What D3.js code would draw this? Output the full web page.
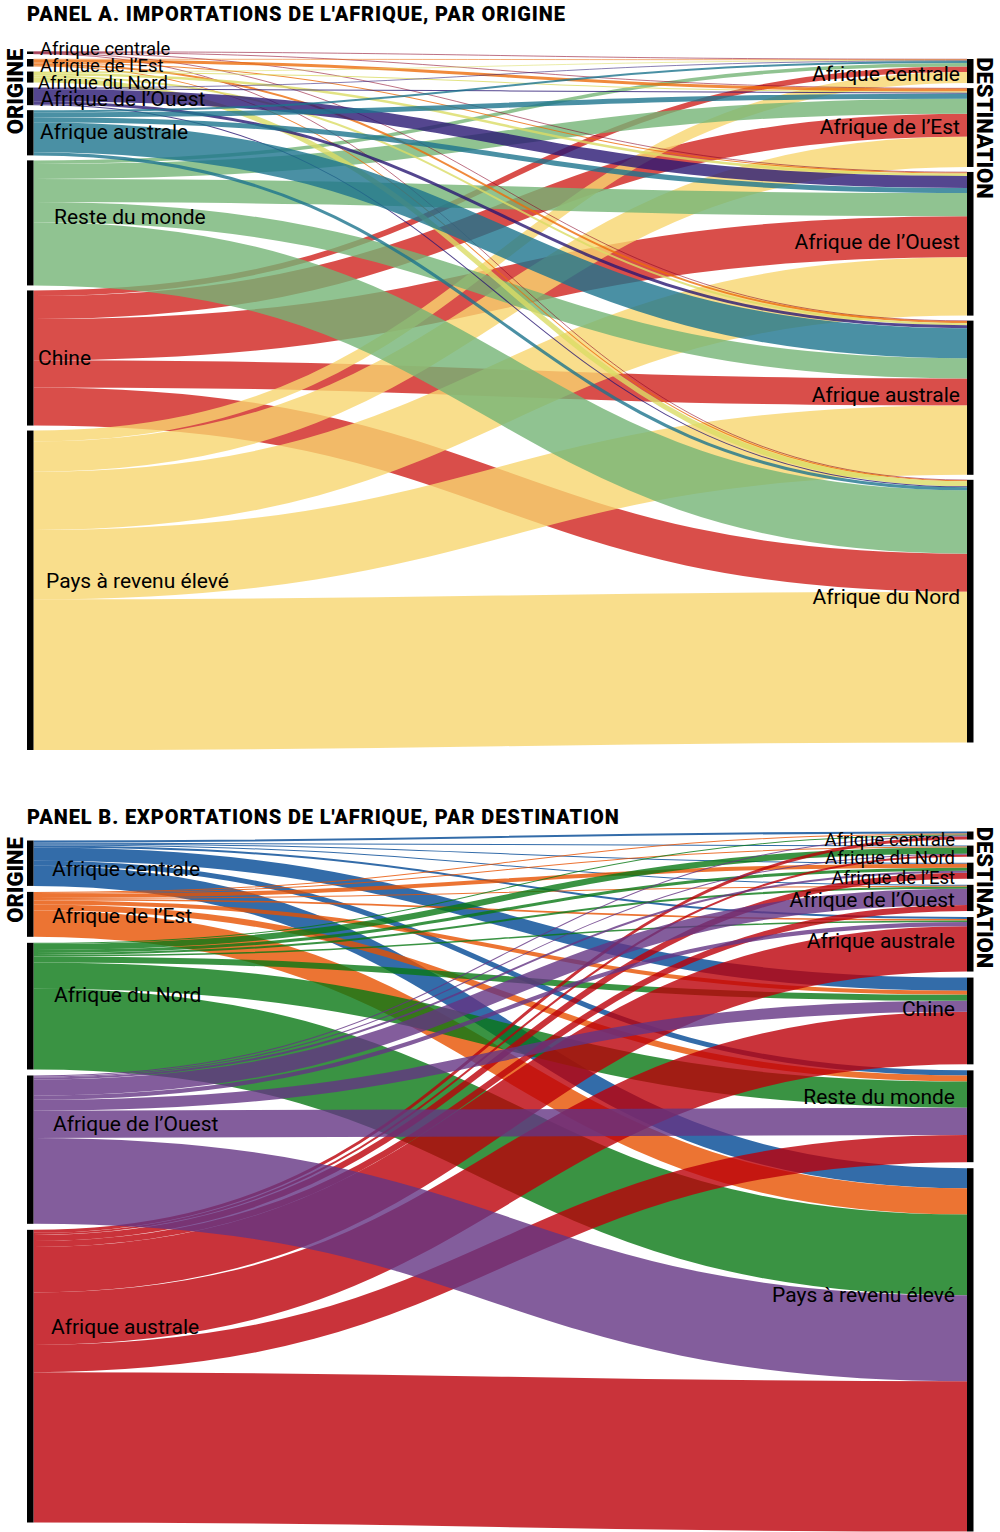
<!DOCTYPE html>
<html><head><meta charset="utf-8">
<script src="https://cdn.jsdelivr.net/npm/d3@7"></script>
<style>
body{margin:0;background:#fff}
svg{display:block}
text{font-family:Roboto,"Noto Sans","DejaVu Sans",sans-serif;fill:#000}
</style>
</head><body>
<svg id="chart" width="1000" height="1532"></svg>
<script>
// ---------------- DATA ----------------
// Panel A: imports of Africa, by origin (rows = origins, columns = destinations)
const originsA = ["Afrique centrale","Afrique de l’Est","Afrique du Nord","Afrique de l’Ouest","Afrique australe","Reste du monde","Chine","Pays à revenu élevé"];
const destinationsA = ["Afrique centrale","Afrique de l’Est","Afrique de l’Ouest","Afrique australe","Afrique du Nord"];
const fromCentraleA = [0.5, 0.5, 0.5, 0.5, 0.5];
const fromEstA      = [0.5, 3, 1, 2, 1];
const fromNordA     = [0.5, 1, 2.5, 2, 5];
const fromOuestA    = [0.5, 1, 12, 3, 1];
const fromAustraleA = [2, 5, 5, 30, 3];
const fromResteA    = [3.5, 15, 23, 20, 63];
const fromChineA    = [5.5, 23, 41, 27, 38];
const fromHicA      = [11, 30, 58, 69, 150];
const flowsA = [fromCentraleA, fromEstA, fromNordA, fromOuestA, fromAustraleA, fromResteA, fromChineA, fromHicA];

// Panel B: exports of Africa, by destination (rows = origins, columns = destinations)
const originsB = ["Afrique centrale","Afrique de l’Est","Afrique du Nord","Afrique de l’Ouest","Afrique australe"];
const destinationsB = ["Afrique centrale","Afrique du Nord","Afrique de l’Est","Afrique de l’Ouest","Afrique australe","Chine","Reste du monde","Pays à revenu élevé"];
const toWorldFromCentraleB = [2, 1, 1, 1, 2, 13, 5, 20];
const toWorldFromEstB      = [1, 1, 4, 1, 1.5, 4, 6, 26];
const toWorldFromNordB     = [1, 6, 3, 2, 1.5, 6, 26, 80];
const toWorldFromOuestB    = [1, 1, 2, 16, 4, 11, 27, 85];
const toWorldFromAustraleB = [3, 2, 6, 6, 45, 52, 27, 149];
const flowsB = [toWorldFromCentraleB, toWorldFromEstB, toWorldFromNordB, toWorldFromOuestB, toWorldFromAustraleB];

const titleA = "PANEL A. IMPORTATIONS DE L'AFRIQUE, PAR ORIGINE";
const titleB = "PANEL B. EXPORTATIONS DE L'AFRIQUE, PAR DESTINATION";
const sideLeft = "ORIGINE";
const sideRight = "DESTINATION";

// ---------------- STYLE / LAYOUT ----------------
const ALPHA = 0.8;
const colorsA = ["#a0224e","#f08a3c","#e2e384","#54468f","#4a90a4","#90c391","#d94e4a","#f9de8c"];
const colorsB = ["#2f6ca9","#ec7431","#3a9343","#835d9c","#c9323a"];

const panelA = {
  sources: originsA, targets: destinationsA, flows: flowsA, colors: colorsA,
  y0: 51.5, y1: 750, pad: 5, drawOrder: [6, 7, 5, 0, 1, 2, 3, 4],
  title: titleA, titleY: 21, sideLY: 91.5, sideRY: 128,
  srcLabel: { size:[18.5,18.5,18.5,21,21,21,21,21], x:[40,40,38,40,40,54,38,46], dy:[-4.8,3,5.2,1.8,-0.8,-6.8,-0.7,-9.5] },
  tgtLabel: { size:[21,21,21,21,21], x:960, dy:[2.5,-0.7,-2.7,-3.3,-14.2] }
};
const panelB = {
  sources: originsB, targets: destinationsB, flows: flowsB, colors: colorsB,
  y0: 831.5, y1: 1531.5, pad: 6, drawOrder: [0, 1, 2, 4, 3],
  title: titleB, titleY: 823.5, sideLY: 880, sideRY: 897.5,
  srcLabel: { size:[21,21,21,21,21], x:[52,52,54,53,51], dy:[5.5,0.8,-11.5,-26.3,-50] },
  tgtLabel: { size:[18.5,18.5,18.5,21,21,21,21,21], x:955, dy:[3.8,6.8,6.7,1.2,-3.5,-12.7,-19.8,-54.8] }
};
const barL = 27, barR = 967, barW = 6.5;

const svg = d3.select("#chart");

function baseColor(hex, a) {
  const c = d3.rgb(hex);
  const f = v => Math.max(0, Math.min(255, (v - (1 - a) * 255) / a));
  return d3.rgb(f(c.r), f(c.g), f(c.b)).formatHex();
}

function layoutSankey(p) {
  const total = d3.sum(p.flows.flat());
  const maxN = Math.max(p.sources.length, p.targets.length);
  const ky = (p.y1 - p.y0 - (maxN - 1) * p.pad) / total;
  const h = d3.scaleLinear().domain([0, total]).range([0, total * ky]);
  function column(names, sums) {
    const span = d3.sum(sums, s => h(s)) + (names.length - 1) * p.pad;
    let y = p.y0 + (p.y1 - p.y0 - span) / 2;
    return names.map((n, i) => {
      const node = { name: n, index: i, y0: y, y1: y + h(sums[i]) };
      y = node.y1 + p.pad;
      return node;
    });
  }
  const srcSums = p.flows.map(r => d3.sum(r));
  const tgtSums = p.targets.map((_, j) => d3.sum(p.flows, r => r[j]));
  const srcNodes = column(p.sources, srcSums);
  const tgtNodes = column(p.targets, tgtSums);
  const links = [];
  p.flows.forEach((row, i) => {
    let y = srcNodes[i].y0;
    row.forEach((v, j) => {
      const w = h(v);
      links.push({ i, j, v, w, sy: y + w / 2 });
      y += w;
    });
  });
  p.targets.forEach((_, j) => {
    let y = tgtNodes[j].y0;
    p.flows.forEach((row, i) => {
      const l = links.find(k => k.i === i && k.j === j);
      l.ty = y + l.w / 2;
      y += l.w;
    });
  });
  return { srcNodes, tgtNodes, links };
}

function drawPanel(p) {
  const g = svg.append("g");
  const L = layoutSankey(p);
  const x0 = barL + barW, x1 = barR;
  const linkGen = d3.linkHorizontal().source(d => [x0, d.sy]).target(d => [x1, d.ty]);
  const ordered = L.links.slice().sort((a, b) => p.drawOrder.indexOf(a.i) - p.drawOrder.indexOf(b.i));
  g.append("g").selectAll("path").data(ordered).join("path")
    .attr("d", linkGen)
    .attr("fill", "none")
    .attr("stroke", d => baseColor(p.colors[d.i], ALPHA))
    .attr("stroke-opacity", ALPHA)
    .attr("stroke-width", d => Math.max(0.7, d.w));

  g.append("g").selectAll("rect").data(L.srcNodes).join("rect")
    .attr("x", barL).attr("width", barW)
    .attr("y", d => d.y0).attr("height", d => d.y1 - d.y0).attr("fill", "#000");
  g.append("g").selectAll("rect").data(L.tgtNodes).join("rect")
    .attr("x", barR).attr("width", barW)
    .attr("y", d => d.y0).attr("height", d => d.y1 - d.y0).attr("fill", "#000");

  g.append("g").selectAll("text").data(L.srcNodes).join("text")
    .attr("x", d => p.srcLabel.x[d.index])
    .attr("y", d => (d.y0 + d.y1) / 2 + p.srcLabel.dy[d.index] + 0.355 * p.srcLabel.size[d.index])
    .attr("font-size", d => p.srcLabel.size[d.index])
    .text(d => d.name);
  g.append("g").selectAll("text").data(L.tgtNodes).join("text")
    .attr("x", p.tgtLabel.x)
    .attr("text-anchor", "end")
    .attr("y", d => (d.y0 + d.y1) / 2 + p.tgtLabel.dy[d.index] + 0.355 * p.tgtLabel.size[d.index])
    .attr("font-size", d => p.tgtLabel.size[d.index])
    .text(d => d.name);

  g.append("text").attr("x", 27).attr("y", p.titleY)
    .attr("font-size", 20).attr("font-weight", 900).attr("letter-spacing", 0.9)
    .text(p.title);
  g.append("text")
    .attr("transform", `translate(23,${p.sideLY}) rotate(-90)`)
    .attr("text-anchor", "middle").attr("font-size", 22).attr("font-weight", 900)
    .text(sideLeft);
  g.append("text")
    .attr("transform", `translate(977,${p.sideRY}) rotate(90)`)
    .attr("text-anchor", "middle").attr("font-size", 22).attr("font-weight", 900)
    .text(sideRight);
}

drawPanel(panelA);
drawPanel(panelB);
</script>
</body></html>
